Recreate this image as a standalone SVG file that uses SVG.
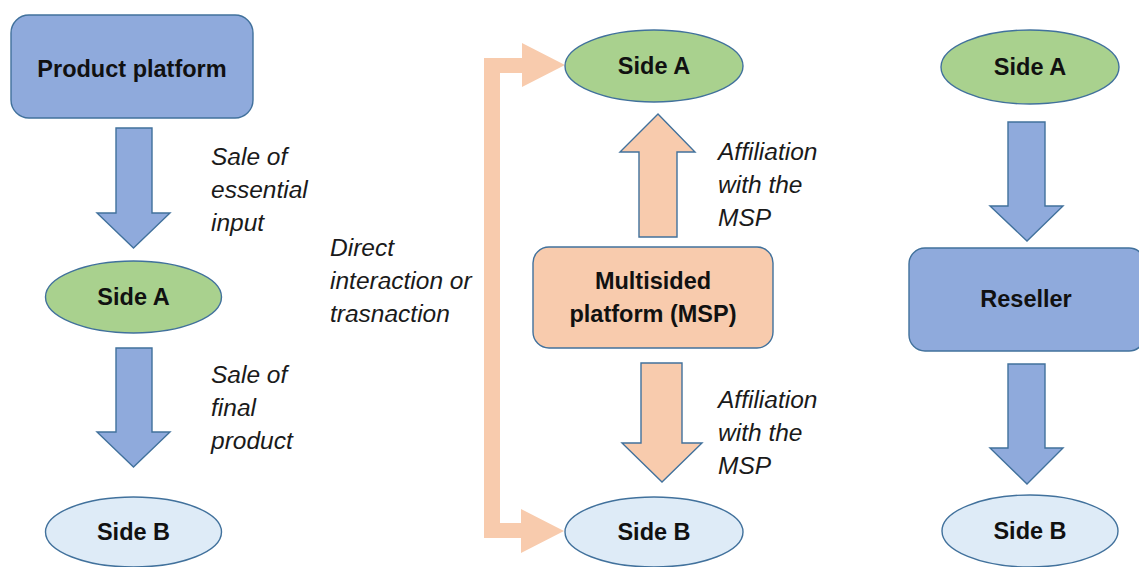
<svg xmlns="http://www.w3.org/2000/svg" width="1139" height="567" viewBox="0 0 1139 567">
  <style>
    .blue { fill: #8FAADC; stroke: #41719C; stroke-width: 1.4; }
    .green { fill: #A9D18E; stroke: #41719C; stroke-width: 1.4; }
    .pale { fill: #DEEBF7; stroke: #41719C; stroke-width: 1.4; }
    .peach { fill: #F8CBAD; stroke: #41719C; stroke-width: 1.4; }
    .flow { fill: #F8CBAD; stroke: none; }
    .lbl { font-family: "Liberation Sans", Arial, sans-serif; font-size: 23.5px; font-weight: bold; fill: #111; text-anchor: middle; }
    .note { font-family: "Liberation Sans", Arial, sans-serif; font-size: 24.5px; font-style: italic; fill: #1a1a1a; }
  </style>
  <rect width="1139" height="567" fill="#ffffff"/>

  <!-- Block arrows and the elbow connector -->
  <g id="connectors">
    <!-- left column -->
    <polygon class="blue" points="116,128 152,128 152,213 170,213 133.5,248 97,213 116,213"/>
    <polygon class="blue" points="116,348 152,348 152,432 170,432 133.5,467 97,432 116,432"/>
    <!-- middle column -->
    <polygon class="peach" points="639,237 677,237 677,152 695,152 658,114 620,152 639,152"/>
    <polygon class="peach" points="641,363 682,363 682,443 702,443 662,482 622,443 641,443"/>
    <!-- direct interaction elbow: from the left edge to both sides -->
    <path class="flow" d="M484,58 H522 V43 L565,65 L522,87 V73 H500 V523 H521 V509 L564,531 L521,553 V538 H484 Z"/>
    <!-- right column -->
    <polygon class="blue" points="1008,122 1045,122 1045,206 1063,206 1027,241 990,206 1008,206"/>
    <polygon class="blue" points="1008,364 1045,364 1045,448 1063,448 1027,484 990,448 1008,448"/>
  </g>

  <!-- Product platform model -->
  <g id="product-platform">
    <rect class="blue" x="11" y="15" width="242" height="103" rx="18"/>
    <text class="lbl" x="132" y="77">Product platform</text>
  </g>
  <g id="left-side-a">
    <ellipse class="green" cx="133.5" cy="297" rx="88" ry="36"/>
    <text class="lbl" x="133.5" y="305">Side A</text>
  </g>
  <g id="left-side-b">
    <ellipse class="pale" cx="133.5" cy="532" rx="88" ry="35"/>
    <text class="lbl" x="133.5" y="540">Side B</text>
  </g>
  <g id="left-notes">
    <text class="note" x="211" y="165">Sale of</text>
    <text class="note" x="211" y="198">essential</text>
    <text class="note" x="211" y="231">input</text>
    <text class="note" x="211" y="383">Sale of</text>
    <text class="note" x="211" y="416">final</text>
    <text class="note" x="211" y="449">product</text>
  </g>

  <!-- Multisided platform model -->
  <g id="direct-note">
    <text class="note" x="330" y="256">Direct</text>
    <text class="note" x="330" y="289">interaction or</text>
    <text class="note" x="330" y="322">trasnaction</text>
  </g>
  <g id="mid-side-a">
    <ellipse class="green" cx="654" cy="66" rx="89" ry="36"/>
    <text class="lbl" x="654" y="74">Side A</text>
  </g>
  <g id="msp">
    <rect class="peach" x="533" y="247" width="240" height="101" rx="16"/>
    <text class="lbl" x="653" y="289">Multisided</text>
    <text class="lbl" x="653" y="322">platform (MSP)</text>
  </g>
  <g id="mid-side-b">
    <ellipse class="pale" cx="654" cy="532" rx="89" ry="35"/>
    <text class="lbl" x="654" y="540">Side B</text>
  </g>
  <g id="mid-notes">
    <text class="note" x="718" y="160">Affiliation</text>
    <text class="note" x="718" y="193">with the</text>
    <text class="note" x="718" y="226">MSP</text>
    <text class="note" x="718" y="408">Affiliation</text>
    <text class="note" x="718" y="441">with the</text>
    <text class="note" x="718" y="474">MSP</text>
  </g>

  <!-- Reseller model -->
  <g id="right-side-a">
    <ellipse class="green" cx="1030" cy="67" rx="89" ry="37"/>
    <text class="lbl" x="1030" y="75">Side A</text>
  </g>
  <g id="reseller">
    <rect class="blue" x="909" y="248" width="236" height="103" rx="16"/>
    <text class="lbl" x="1026" y="307">Reseller</text>
  </g>
  <g id="right-side-b">
    <ellipse class="pale" cx="1030" cy="531" rx="88" ry="36"/>
    <text class="lbl" x="1030" y="539">Side B</text>
  </g>
</svg>
